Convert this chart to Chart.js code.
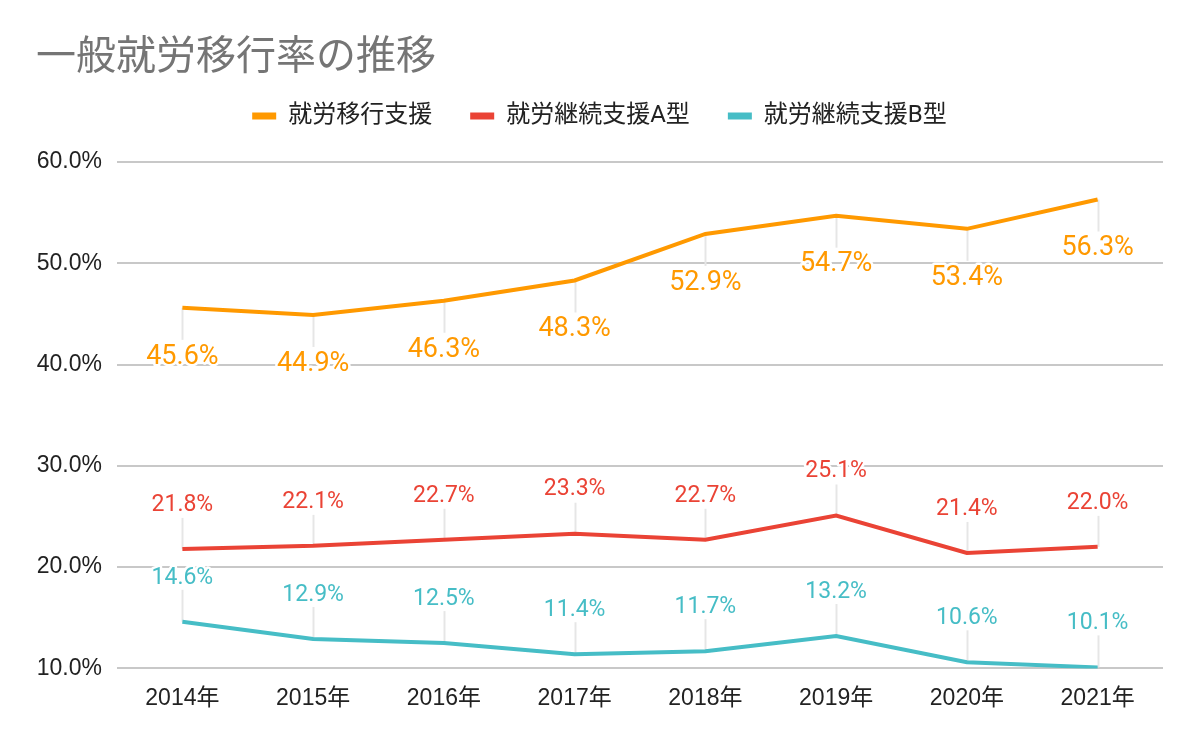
<!DOCTYPE html>
<html>
<head>
<meta charset="utf-8">
<script src="https://cdn.jsdelivr.net/npm/chart.js@4"></script>
<style>
html,body{margin:0;padding:0;background:#fff;}
#wrap{width:1200px;height:742px;}
</style>
</head>
<body>
<div id="wrap"><canvas id="c" width="1200" height="742"></canvas></div>
<script>
const categories = ['2014年','2015年','2016年','2017年','2018年','2019年','2020年','2021年'];
const seriesNames = ['就労移行支援','就労継続支援A型','就労継続支援B型'];
const shuro = [45.6, 44.9, 46.3, 48.3, 52.9, 54.7, 53.4, 56.3];
const keizokuA = [21.8, 22.1, 22.7, 23.3, 22.7, 25.1, 21.4, 22.0];
const keizokuB = [14.6, 12.9, 12.5, 11.4, 11.7, 13.2, 10.6, 10.1];
const yTicks = [10, 20, 30, 40, 50, 60];

const CJK = "'Noto Sans CJK JP'";

const legendMargin = {
  id: 'legendMargin',
  beforeInit(chart) {
    const fit = chart.legend.fit;
    chart.legend.fit = function () { fit.bind(chart.legend)(); this.height += 24; };
  }
};

const labelPlugin = {
  id: 'leaderLabels',
  beforeDatasetsDraw(chart) {
    const ctx = chart.ctx;
    ctx.save();
    ctx.strokeStyle = '#e6e6e6';
    ctx.lineWidth = 2;
    chart.data.datasets.forEach((ds, i) => {
      const meta = chart.getDatasetMeta(i);
      const cfg = ds.lbl;
      meta.data.forEach(pt => {
        ctx.beginPath();
        ctx.moveTo(Math.round(pt.x) + 0.5, pt.y);
        ctx.lineTo(Math.round(pt.x) + 0.5, pt.y + cfg.lead);
        ctx.stroke();
      });
    });
    ctx.restore();
  },
  afterDatasetsDraw(chart) {
    const ctx = chart.ctx;
    ctx.save();
    ctx.textAlign = 'center';
    ctx.textBaseline = 'middle';
    chart.data.datasets.forEach((ds, i) => {
      const meta = chart.getDatasetMeta(i);
      const cfg = ds.lbl;
      ctx.font = cfg.size + 'px Roboto';
      meta.data.forEach((pt, j) => {
        const txt = ds.data[j].toFixed(1) + '%';
        const y = pt.y + cfg.off;
        ctx.lineWidth = 5;
        ctx.strokeStyle = '#ffffff';
        ctx.lineJoin = 'round';
        ctx.strokeText(txt, pt.x, y);
        ctx.fillStyle = ds.borderColor;
        ctx.fillText(txt, pt.x, y);
      });
    });
    ctx.restore();
  }
};

new Chart(document.getElementById('c'), {
  type: 'line',
  data: {
    labels: categories,
    datasets: [
      { label: seriesNames[0], data: shuro, borderColor: '#ff9900', backgroundColor: '#ff9900', borderWidth: 4, pointRadius: 0, tension: 0, lbl: { off: 49, lead: 32, size: 27 } },
      { label: seriesNames[1], data: keizokuA, borderColor: '#ea4335', backgroundColor: '#ea4335', borderWidth: 4, pointRadius: 0, tension: 0, lbl: { off: -44, lead: -31, size: 23 } },
      { label: seriesNames[2], data: keizokuB, borderColor: '#46bdc6', backgroundColor: '#46bdc6', borderWidth: 4, pointRadius: 0, tension: 0, lbl: { off: -44, lead: -32, size: 23 } }
    ]
  },
  options: {
    responsive: false,
    animation: false,
    devicePixelRatio: 1,
    layout: { padding: { left: 36, right: 37, top: 0, bottom: 22 } },
    plugins: {
      title: {
        display: true,
        text: '一般就労移行率の推移',
        align: 'start',
        color: '#757575',
        font: { family: CJK, size: 40, weight: 'normal', lineHeight: 0.6 },
        padding: { top: 42, bottom: 0 }
      },
      legend: {
        display: true,
        position: 'top',
        labels: {
          color: '#222222',
          font: { family: "Roboto, " + CJK, size: 24 },
          boxWidth: 24,
          boxHeight: 7,
          padding: 38,
          generateLabels(chart) {
            return Chart.defaults.plugins.legend.labels.generateLabels(chart).map(l => Object.assign(l, { lineWidth: 0, fillStyle: l.strokeStyle }));
          }
        }
      },
      tooltip: { enabled: false }
    },
    scales: {
      x: {
        offset: true,
        grid: { display: false },
        border: { display: false },
        ticks: { color: '#222222', font: { family: "'Liberation Sans', " + CJK, size: 23 }, padding: 8 }
      },
      y: {
        min: yTicks[0],
        max: yTicks[yTicks.length - 1],
        afterBuildTicks(scale) { scale.ticks = yTicks.map(v => ({ value: v })); },
        afterFit(scale) { scale.width = 81; },
        grid: { color: '#c8c8c8', lineWidth: 2, drawTicks: false },
        border: { display: false },
        ticks: { color: '#222222', font: { family: "'Liberation Sans'", size: 23 }, padding: 15, callback: v => v.toFixed(1) + '%' }
      }
    }
  },
  plugins: [legendMargin, labelPlugin]
});
</script>
</body>
</html>
